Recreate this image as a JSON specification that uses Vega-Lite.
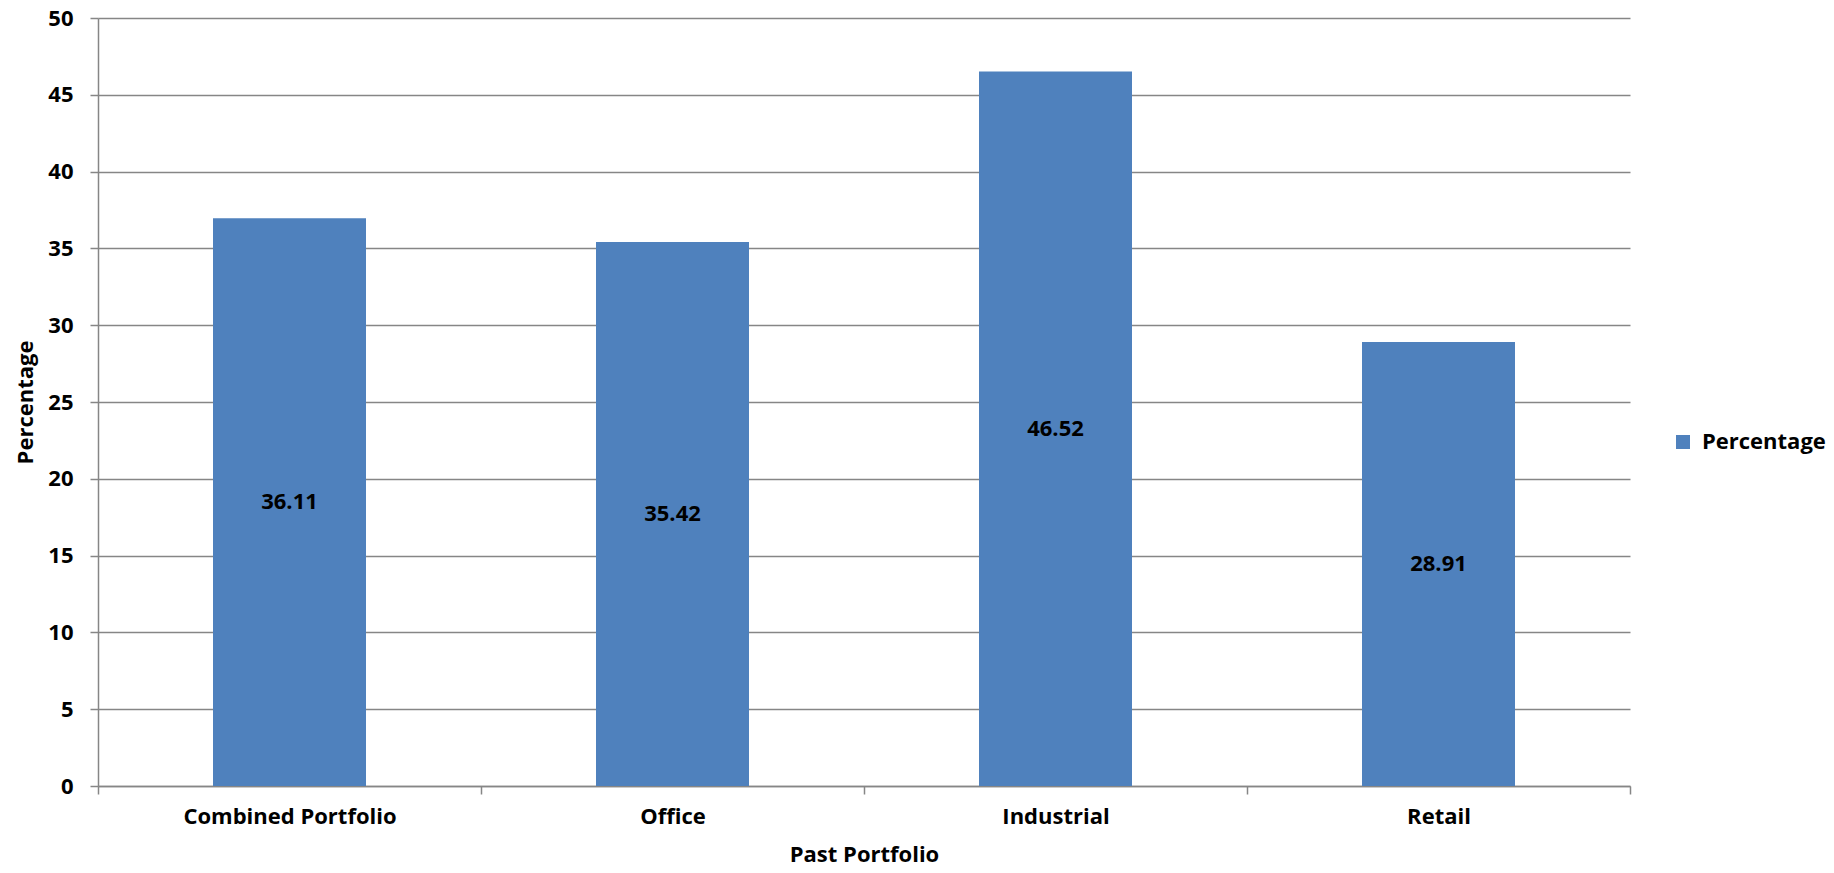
{
  "$schema": "https://vega.github.io/schema/vega-lite/v6.json",
  "autosize": {"type": "none"},
  "padding": {"left": 98, "top": 18, "right": 204, "bottom": 87},
  "width": 1532,
  "height": 768,
  "background": "white",
  "config": {
    "view": {"stroke": null},
    "font": "Open Sans",
    "axis": {"labelFont": "Open Sans", "titleFont": "Open Sans", "labelFontWeight": "bold", "titleFontWeight": "bold", "labelColor": "black", "titleColor": "black", "labelLimit": 0}
  },
  "data": {
    "values": [
      {"portfolio": "Combined Portfolio", "value": 36.97, "label": "36.11", "series": "Percentage"},
      {"portfolio": "Office", "value": 35.42, "label": "35.42", "series": "Percentage"},
      {"portfolio": "Industrial", "value": 46.52, "label": "46.52", "series": "Percentage"},
      {"portfolio": "Retail", "value": 28.91, "label": "28.91", "series": "Percentage"}
    ]
  },
  "transform": [{"calculate": "datum.value / 2", "as": "mid"}],
  "layer": [
    {
      "mark": {"type": "bar", "size": 153},
      "encoding": {
        "x": {
          "field": "portfolio", "type": "nominal", "sort": null,
          "scale": {"paddingInner": 0, "paddingOuter": 0},
          "axis": {
            "title": "Past Portfolio", "labelAngle": 0, "tickBand": "extent",
            "labelFontSize": 22, "titleFontSize": 22,
            "tickSize": 8, "tickColor": "#868686", "tickWidth": 1.5,
            "domainColor": "#868686", "domainWidth": 1.5,
            "labelPadding": 12, "titlePadding": 17, "grid": false
          }
        },
        "y": {
          "field": "value", "type": "quantitative",
          "scale": {"domain": [0, 50], "nice": false},
          "axis": {
            "title": "Percentage", "values": [0,5,10,15,20,25,30,35,40,45,50],
            "labelFontSize": 22, "titleFontSize": 22,
            "tickSize": 8, "tickColor": "#868686", "tickWidth": 1.5,
            "domainColor": "#868686", "domainWidth": 1.5,
            "gridColor": "#868686", "gridWidth": 1.5,
            "labelPadding": 17,
            "titleX": -73, "titleY": 384, "titleAngle": -90, "titleAlign": "center", "titleBaseline": "middle"
          }
        },
        "color": {
          "field": "series", "type": "nominal",
          "scale": {"range": ["#4F81BD"]},
          "legend": {
            "title": null, "orient": "none", "legendX": 1574, "legendY": 413,
            "symbolType": "square", "symbolSize": 196, "symbolStrokeWidth": 0,
            "labelFont": "Open Sans", "labelFontSize": 22, "labelFontWeight": "bold", "labelColor": "black",
            "labelOffset": 8, "padding": 0
          }
        }
      }
    },
    {
      "mark": {"type": "text", "font": "Open Sans", "fontSize": 22, "fontWeight": "bold", "color": "black", "baseline": "middle"},
      "encoding": {
        "x": {"field": "portfolio", "type": "nominal", "sort": null},
        "y": {"field": "mid", "type": "quantitative"},
        "text": {"field": "label"}
      }
    }
  ]
}
